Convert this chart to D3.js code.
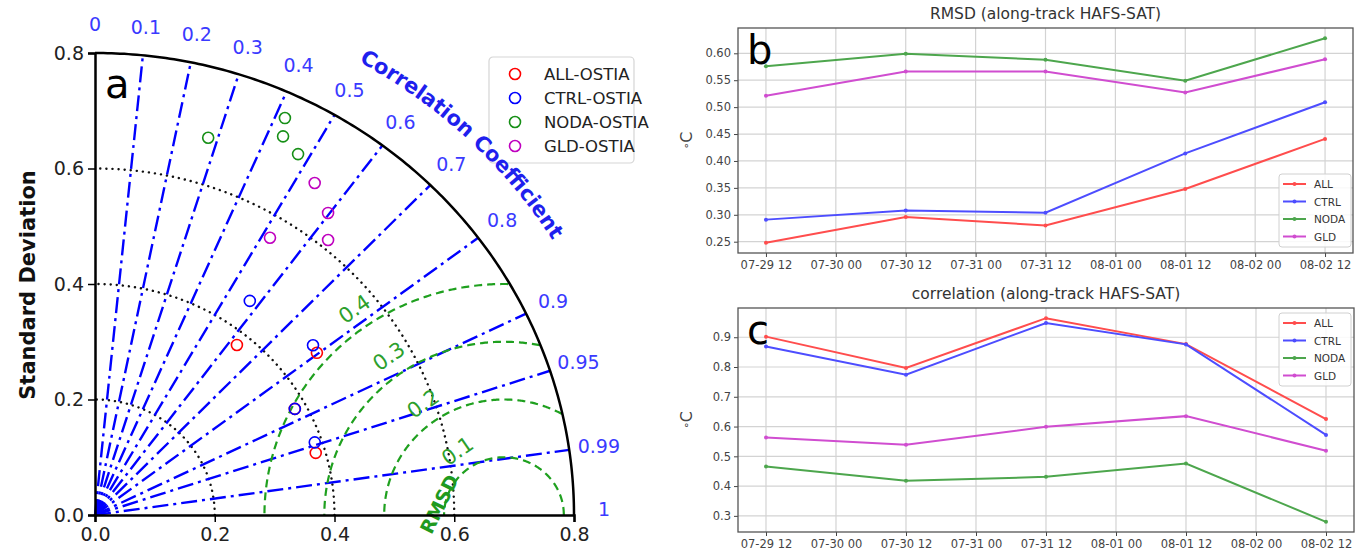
<!DOCTYPE html>
<html>
<head>
<meta charset="utf-8">
<script src="https://cdn.jsdelivr.net/npm/d3@7"></script>
<style>
  body { margin: 0; background: #fff; }
  text { font-family: "DejaVu Sans", sans-serif; }
</style>
</head>
<body>
<svg id="chart" width="1362" height="553"></svg>
<script>
// ---------------- data ----------------
const runs = ["ALL", "CTRL", "NODA", "GLD"]
const markerColors = ["#ff0000", "#0000ff", "#168f16", "#bf00bf"]
const lineColors = ["#ff4d4d", "#4d4dff", "#4da64d", "#d04dd0"]

const times = ["2021-07-29T12:00Z", "2021-07-30T12:00Z", "2021-07-31T12:00Z", "2021-08-01T12:00Z", "2021-08-02T12:00Z"]
const timeTicks = ["2021-07-29T12:00Z", "2021-07-30T00:00Z", "2021-07-30T12:00Z", "2021-07-31T00:00Z", "2021-07-31T12:00Z",
                   "2021-08-01T00:00Z", "2021-08-01T12:00Z", "2021-08-02T00:00Z", "2021-08-02T12:00Z"]

// panel b : RMSD
const rmsdALL  = [0.248, 0.296, 0.280, 0.348, 0.441]
const rmsdCTRL = [0.291, 0.308, 0.304, 0.414, 0.509]
const rmsdNODA = [0.576, 0.599, 0.588, 0.549, 0.628]
const rmsdGLD  = [0.521, 0.566, 0.566, 0.527, 0.589]
const rmsdTicks = [0.25, 0.30, 0.35, 0.40, 0.45, 0.50, 0.55, 0.60]

// panel c : correlation
const corrALL  = [0.902, 0.797, 0.964, 0.877, 0.625]
const corrCTRL = [0.869, 0.774, 0.948, 0.876, 0.572]
const corrNODA = [0.466, 0.418, 0.431, 0.476, 0.280]
const corrGLD  = [0.563, 0.539, 0.599, 0.635, 0.519]
const corrTicksLin = [0.3, 0.4, 0.5, 0.6, 0.7, 0.8, 0.9]

// panel a : Taylor diagram (std, correlation)
const taylorStdALL   = [0.378, 0.465, 0.381, 0.384]
const taylorCorrALL  = [0.627, 0.797, 0.876, 0.960]
const taylorStdCTRL  = [0.452, 0.468, 0.381, 0.388]
const taylorCorrCTRL = [0.572, 0.778, 0.876, 0.946]
const taylorStdNODA  = [0.680, 0.757, 0.727, 0.711]
const taylorCorrNODA = [0.278, 0.419, 0.432, 0.477]
const taylorStdGLD   = [0.682, 0.652, 0.615, 0.562]
const taylorCorrGLD  = [0.538, 0.597, 0.633, 0.520]

const refStd = 0.683
const rmsdLevels = [0.1, 0.2, 0.3, 0.4]
const stdLevels = [0.2, 0.4, 0.6]
const stdTicks = [0, 0.2, 0.4, 0.6, 0.8]
const corrLabels = [0, 0.1, 0.2, 0.3, 0.4, 0.5, 0.6, 0.7, 0.8, 0.9, 0.95, 0.99, 1]
const corrLines = [0.1, 0.2, 0.3, 0.4, 0.5, 0.6, 0.7, 0.8, 0.9, 0.95, 0.99]
const stdMax = 0.8

const svg = d3.select('#chart')
svg.append('rect').attr('width', 1362).attr('height', 553).attr('fill', '#fff')

// ---------------- panel a ----------------
const tx = d3.scaleLinear().domain([0, stdMax]).range([95, 574])
const ty = d3.scaleLinear().domain([0, stdMax]).range([515, 53])
const polar = (r, a) => [r * Math.cos(a), r * Math.sin(a)]
const tLine = d3.line().x(d => tx(d[0])).y(d => ty(d[1]))
const deg = d3.range(0, 90.5, 0.5).map(d => d * Math.PI / 180)

const ta = svg.append('g')

// std dotted arcs
stdLevels.forEach(s => {
  ta.append('path')
    .attr('d', tLine(deg.map(a => polar(s, a))))
    .attr('fill', 'none').attr('stroke', '#111').attr('stroke-width', 2.4)
    .attr('stroke-dasharray', '0.1,6').attr('stroke-linecap', 'round')
})

// correlation lines
corrLines.forEach(c => {
  const a = Math.acos(c)
  ta.append('path')
    .attr('d', tLine([[0, 0], polar(stdMax, a)]))
    .attr('fill', 'none').attr('stroke', '#0000ff').attr('stroke-width', 2.4)
    .attr('stroke-dasharray', '16,5,3,5')
})

// RMSD arcs
rmsdLevels.forEach(r => {
  const pts = d3.range(0, 180.5, 0.5).map(d => {
    const a = d * Math.PI / 180
    return [refStd + r * Math.cos(a), r * Math.sin(a)]
  }).filter(p => p[0] * p[0] + p[1] * p[1] <= stdMax * stdMax)
  ta.append('path')
    .attr('d', tLine(pts))
    .attr('fill', 'none').attr('stroke', '#1fa01f').attr('stroke-width', 2.2)
    .attr('stroke-dasharray', '8,5')
  const la = 125 * Math.PI / 180
  const px = tx(refStd + (r + 0.035) * Math.cos(la))
  const py = ty((r + 0.035) * Math.sin(la))
  ta.append('text')
    .attr('transform', `translate(${px},${py}) rotate(-35)`)
    .attr('text-anchor', 'middle').attr('dominant-baseline', 'central')
    .attr('font-size', 21).attr('fill', '#2ca02c')
    .text(r.toFixed(1))
})
const rl = [refStd + 0.11 * Math.cos(170 * Math.PI / 180), 0.11 * Math.sin(170 * Math.PI / 180)]
ta.append('text')
  .attr('transform', `translate(${tx(rl[0])}, ${ty(rl[1])}) rotate(-64)`)
  .attr('text-anchor', 'middle').attr('dominant-baseline', 'central')
  .attr('font-size', 19).attr('font-weight', 'bold').attr('fill', '#1f9a1f')
  .text('RMSD')

// outer arc
ta.append('path')
  .attr('d', tLine(deg.map(a => polar(stdMax, a))))
  .attr('fill', 'none').attr('stroke', '#000').attr('stroke-width', 2.5)

// axes
const axL = ta.append('g').attr('transform', `translate(${tx(0)},0)`)
  .call(d3.axisLeft(ty).tickValues(stdTicks).tickFormat(d3.format('.1f')).tickSize(7))
const axB = ta.append('g').attr('transform', `translate(0,${ty(0)})`)
  .call(d3.axisBottom(tx).tickValues(stdTicks).tickFormat(d3.format('.1f')).tickSize(7))
;[axL, axB].forEach(ax => {
  ax.select('.domain').attr('stroke', '#000').attr('stroke-width', 2.5)
  ax.selectAll('.tick line').attr('stroke', '#000').attr('stroke-width', 1.5)
  ax.selectAll('.tick text').attr('font-size', 19).attr('fill', '#222')
    .attr('font-family', '"DejaVu Sans", sans-serif')
})
axL.selectAll('.tick text').attr('x', -11)
axB.selectAll('.tick text').attr('y', 13)

ta.append('text')
  .attr('transform', `translate(28, 285) rotate(-90)`)
  .attr('text-anchor', 'middle').attr('dominant-baseline', 'central')
  .attr('font-size', 21).attr('font-weight', 'bold').attr('fill', '#111')
  .text('Standard Deviation')

// correlation labels
ta.selectAll('.clab').data(corrLabels).join('text')
  .attr('x', d => tx(polar(0.85, Math.acos(d))[0]))
  .attr('y', d => ty(polar(0.85, Math.acos(d))[1]) - (d === 1 ? 6 : 0))
  .attr('text-anchor', 'middle').attr('dominant-baseline', 'central')
  .attr('font-size', 19).attr('fill', '#3a3aff')
  .text(d => String(d))

// markers
const taylorStd = [taylorStdALL, taylorStdCTRL, taylorStdNODA, taylorStdGLD]
const taylorCorr = [taylorCorrALL, taylorCorrCTRL, taylorCorrNODA, taylorCorrGLD]
runs.forEach((run, i) => {
  ta.selectAll(`.m${i}`).data(taylorStd[i]).join('circle')
    .attr('cx', (d, j) => tx(d * taylorCorr[i][j]))
    .attr('cy', (d, j) => ty(d * Math.sqrt(1 - taylorCorr[i][j] ** 2)))
    .attr('r', 5.5).attr('fill', 'none')
    .attr('stroke', markerColors[i]).attr('stroke-width', 1.6)
})

ta.append('text').attr('x', 105).attr('y', 98).attr('font-size', 40).attr('fill', '#000').text('a')

// legend a
const lga = ta.append('g').attr('transform', 'translate(489,57)')
lga.append('rect').attr('width', 145).attr('height', 106).attr('rx', 4)
  .attr('fill', '#fff').attr('stroke', '#d5d5d5').attr('stroke-width', 1.2)
runs.forEach((run, i) => {
  lga.append('circle').attr('cx', 26).attr('cy', 17 + i * 24).attr('r', 5.5)
    .attr('fill', 'none').attr('stroke', markerColors[i]).attr('stroke-width', 1.6)
  lga.append('text').attr('x', 55).attr('y', 17 + i * 24).attr('dominant-baseline', 'central')
    .attr('font-size', 16.5).attr('fill', '#222').text(`${run}-OSTIA`)
})

// curved axis title, drawn over the legend edge like the original
const ccPath = tLine(d3.range(82, 9, -1).map(d => polar(0.9, d * Math.PI / 180)))
ta.append('path').attr('id', 'ccpath').attr('d', ccPath).attr('fill', 'none')
ta.append('text')
  .attr('font-size', 21).attr('font-weight', 'bold').attr('fill', '#1f1fee')
  .append('textPath').attr('href', '#ccpath')
  .attr('startOffset', '50%').attr('text-anchor', 'middle')
  .text('Correlation Coefficient')

// ---------------- panels b, c ----------------
const parseT = d3.isoParse
const tDates = times.map(parseT)
const tExt = d3.extent(tDates)
const pad = (tExt[1] - tExt[0]) * 0.05
const timeDomain = [new Date(+tExt[0] - pad), new Date(+tExt[1] + pad)]
const fmtTime = d3.utcFormat('%m-%d %H')

function panel(opts) {
  const { left, right, top, bottom, series, ticks, fmt, title, label, labelY, legendTop } = opts
  const g = svg.append('g')
  const all = series.flat()
  const ext = d3.extent(all)
  const m = (ext[1] - ext[0]) * 0.05
  const x = d3.scaleUtc().domain(timeDomain).range([left, right])
  const y = d3.scaleLinear().domain([ext[0] - m, ext[1] + m]).range([bottom, top])

  // grid
  g.selectAll('.gx').data(timeTicks.map(parseT)).join('line')
    .attr('x1', d => x(d)).attr('x2', d => x(d)).attr('y1', top).attr('y2', bottom)
    .attr('stroke', '#d3d3d3').attr('stroke-width', 1.2)
  g.selectAll('.gy').data(ticks).join('line')
    .attr('x1', left).attr('x2', right).attr('y1', d => y(d)).attr('y2', d => y(d))
    .attr('stroke', '#d3d3d3').attr('stroke-width', 1.2)

  const ax = g.append('g').attr('transform', `translate(0,${bottom})`)
    .call(d3.axisBottom(x).tickValues(timeTicks.map(parseT)).tickFormat(fmtTime).tickSize(4))
  const ay = g.append('g').attr('transform', `translate(${left},0)`)
    .call(d3.axisLeft(y).tickValues(ticks).tickFormat(fmt).tickSize(4))
  ;[ax, ay].forEach(a => {
    a.select('.domain').remove()
    a.selectAll('.tick line').attr('stroke', '#444')
    a.selectAll('.tick text').attr('font-size', 11.5).attr('fill', '#444')
      .attr('font-family', '"DejaVu Sans", sans-serif')
  })
  ax.selectAll('.tick text').attr('y', 8)

  g.append('rect').attr('x', left).attr('y', top).attr('width', right - left).attr('height', bottom - top)
    .attr('fill', 'none').attr('stroke', '#555').attr('stroke-width', 1.3)

  const line = d3.line().x((d, j) => x(tDates[j])).y(d => y(d))
  series.forEach((s, i) => {
    g.append('path').datum(s).attr('d', line)
      .attr('fill', 'none').attr('stroke', lineColors[i]).attr('stroke-width', 2)
    g.selectAll(`.p${i}`).data(s).join('circle')
      .attr('cx', (d, j) => x(tDates[j])).attr('cy', d => y(d)).attr('r', 2)
      .attr('fill', lineColors[i])
  })

  g.append('text').attr('x', (left + right) / 2).attr('y', top - 9).attr('text-anchor', 'middle')
    .attr('font-size', 15.5).attr('fill', '#333').text(title)
  g.append('text').attr('x', left + 9).attr('y', labelY).attr('font-size', 40).attr('fill', '#000').text(label)
  const yl = g.append('text').attr('transform', `translate(${left - 52},${(top + bottom) / 2}) rotate(-90)`)
    .attr('text-anchor', 'middle').attr('dominant-baseline', 'central').attr('fill', '#444')
  yl.append('tspan').attr('font-size', 11).text('∘')
  yl.append('tspan').attr('font-size', 16).text('C')

  const lg = g.append('g').attr('transform', `translate(1279,${legendTop})`)
  lg.append('rect').attr('width', 72).attr('height', 73).attr('rx', 3)
    .attr('fill', '#fff').attr('fill-opacity', 0.85).attr('stroke', '#d0d0d0')
  runs.forEach((run, i) => {
    const yy = 10 + i * 17.5
    lg.append('line').attr('x1', 4).attr('x2', 27).attr('y1', yy).attr('y2', yy)
      .attr('stroke', lineColors[i]).attr('stroke-width', 2)
    lg.append('circle').attr('cx', 15.5).attr('cy', yy).attr('r', 2).attr('fill', lineColors[i])
    lg.append('text').attr('x', 35).attr('y', yy).attr('dominant-baseline', 'central')
      .attr('font-size', 10.5).attr('fill', '#333').text(run)
  })
}

panel({
  left: 738, right: 1353, top: 28, bottom: 253,
  series: [rmsdALL, rmsdCTRL, rmsdNODA, rmsdGLD],
  ticks: rmsdTicks, fmt: d3.format('.2f'),
  title: 'RMSD (along-track HAFS-SAT)', label: 'b', labelY: 64, legendTop: 174
})
panel({
  left: 738, right: 1354, top: 308, bottom: 532,
  series: [corrALL, corrCTRL, corrNODA, corrGLD],
  ticks: corrTicksLin, fmt: d3.format('.1f'),
  title: 'correlation (along-track HAFS-SAT)', label: 'c', labelY: 344, legendTop: 313
})
</script>
</body>
</html>
